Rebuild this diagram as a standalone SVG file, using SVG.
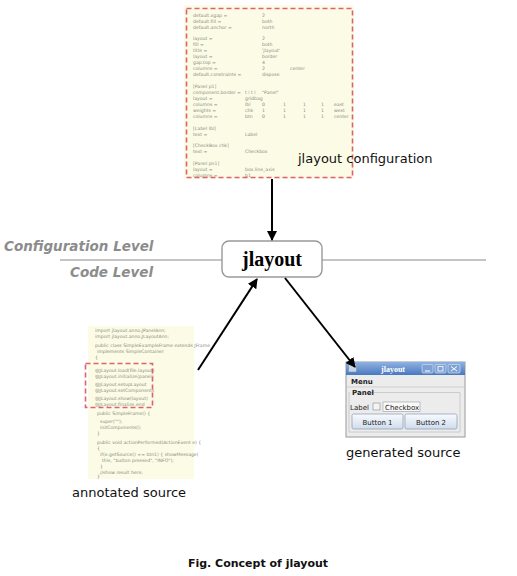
<svg xmlns="http://www.w3.org/2000/svg" width="517" height="576" viewBox="0 0 517 576">
<defs>
<marker id="ah" markerWidth="10" markerHeight="10" refX="9" refY="5" orient="auto" markerUnits="userSpaceOnUse">
<path d="M0,0 L10,5 L0,10 z" fill="#000"/>
</marker>
<linearGradient id="tb" x1="0" y1="0" x2="0" y2="1">
<stop offset="0" stop-color="#8fb2e0"/>
<stop offset="1" stop-color="#4a78c0"/>
</linearGradient>
<linearGradient id="btn" x1="0" y1="0" x2="0" y2="1">
<stop offset="0" stop-color="#f8fbff"/>
<stop offset="1" stop-color="#cfdcec"/>
</linearGradient>
</defs>
<style>
.paper{fill:#fcfce6}
.dash{fill:none;stroke:#e0606e;stroke-width:1.6;stroke-dasharray:5,3}
.code{font-family:"DejaVu Sans",sans-serif;font-size:4.6px;fill:#8a8a80}
.lbl{font-family:"DejaVu Sans","Open Sans",sans-serif;font-size:13px;fill:#111}
.lvl{font-family:"DejaVu Sans",sans-serif;font-size:13.5px;font-weight:bold;font-style:italic;fill:#8c8c8c}
.conn{stroke:#000;stroke-width:2;fill:none}
.wtxt{font-family:"DejaVu Sans",sans-serif;font-size:7px;fill:#222}
</style>
<rect width="517" height="576" fill="#fff"/>

<g id="level-lines">
<line x1="60" y1="260" x2="486" y2="260" stroke="#b0b0b0" stroke-width="1.3"/>
<text class="lvl" x="4" y="251">Configuration Level</text>
<text class="lvl" x="70" y="277">Code Level</text>
</g>

<g id="config">
<rect class="paper" x="184" y="5" width="170" height="174"/>
<rect class="dash" x="186.5" y="8.5" width="166" height="169"/>
<g class="code">
<text x="193" y="17">default.xgap =</text><text x="262" y="17">2</text>
<text x="193" y="23">default.fill =</text><text x="262" y="23">both</text>
<text x="193" y="29">default.anchor =</text><text x="262" y="29">north</text>
<text x="193" y="40">layout =</text><text x="262" y="40">2</text>
<text x="193" y="46">fill =</text><text x="262" y="46">both</text>
<text x="193" y="52">title =</text><text x="262" y="52">'jlayout'</text>
<text x="193" y="58">layout =</text><text x="262" y="58">border</text>
<text x="193" y="64">gap.top =</text><text x="262" y="64">4</text>
<text x="193" y="70">columns =</text><text x="262" y="70">2</text><text x="290" y="70">center</text>
<text x="193" y="76">default.constraints =</text><text x="262" y="76">dispose</text>
<text x="193" y="88">[Panel p1]</text>
<text x="193" y="94">component.border =</text><text x="245" y="94">t i t l</text><text x="262" y="94">"Panel"</text>
<text x="193" y="100">layout =</text><text x="245" y="100">gridbag</text>
<text x="193" y="106">columns =</text><text x="245" y="106">lbl</text>
<text x="193" y="112">weights =</text><text x="245" y="112">chk</text>
<text x="193" y="118">columns =</text><text x="245" y="118">btn</text>
<text x="262" y="106">0</text><text x="283" y="106">1</text><text x="303" y="106">1</text><text x="321" y="106">1</text><text x="334" y="106">east</text>
<text x="262" y="112">1</text><text x="283" y="112">1</text><text x="303" y="112">1</text><text x="321" y="112">1</text><text x="334" y="112">west</text>
<text x="262" y="118">0</text><text x="283" y="118">1</text><text x="303" y="118">1</text><text x="321" y="118">1</text><text x="334" y="118">center</text>
<text x="193" y="130">[Label lbl]</text>
<text x="193" y="136">text =</text><text x="245" y="136">Label</text>
<text x="193" y="147">[CheckBox chk]</text>
<text x="193" y="153">text =</text><text x="245" y="153">Checkbox</text>
<text x="193" y="165">[Panel pn1]</text>
<text x="193" y="171">layout =</text><text x="245" y="171">box.line_axis</text>
<text x="193" y="177">columns =</text><text x="245" y="177">b1</text>
</g>
<text class="lbl" x="298" y="163">jlayout configuration</text>
</g>

<g id="jlayout">
<rect x="222" y="241" width="100" height="36" rx="7" fill="#fff" stroke="#999" stroke-width="1.4"/>
<text x="272" y="266" text-anchor="middle" font-family="Liberation Serif,serif" font-weight="bold" font-size="20" fill="#000">jlayout</text>
</g>

<g id="annotated">
<rect class="paper" x="88" y="326" width="106" height="153"/>
<g class="code" font-size="4.2">
<text x="95" y="332">import jlayout.anno.JPanelAnn;</text>
<text x="95" y="338">import jlayout.anno.JLayoutAnn;</text>
<text x="95" y="347">public class SimpleExampleFrame extends JFrame</text>
<text x="97" y="353">implements SimpleContainer</text>
<text x="95" y="359">{</text>
<text x="95" y="372">@JLayout.load(file.layout)</text>
<text x="95" y="378">@JLayout.initialize(panel)</text>
<text x="95" y="386">@JLayout.setupLayout</text>
<text x="95" y="392">@JLayout.setComponents</text>
<text x="95" y="400">@JLayout.show(layout)</text>
<text x="95" y="406">@JLayout.finalize.end</text>
<text x="97" y="415">public SimpleFrame() {</text>
<text x="100" y="423">super("");</text>
<text x="100" y="429">initComponents();</text>
<text x="97" y="435">}</text>
<text x="97" y="444">public void actionPerformed(ActionEvent e) {</text>
<text x="97" y="450">{</text>
<text x="100" y="456">if(e.getSource() == btn1) {  showMessage(</text>
<text x="102" y="462">this, "button pressed", "INFO");</text>
<text x="100" y="468">}</text>
<text x="100" y="474">//show result here;</text>
<text x="97" y="478">}</text>
</g>
<rect class="dash" x="85.5" y="363.5" width="67" height="44"/>
<text class="lbl" x="72" y="497">annotated source</text>
</g>

<g id="generated">
<rect x="346" y="362" width="119" height="75" fill="#ececec" stroke="#9a9a9a" stroke-width="1"/>
<rect x="346" y="362" width="119" height="13" fill="url(#tb)"/>
<rect x="348.5" y="364" width="8" height="8" rx="1" fill="#c9d4e4" stroke="#6f86a8" stroke-width="0.5"/>
<text x="393" y="372" text-anchor="middle" font-family="Liberation Serif,serif" font-size="8" font-weight="bold" fill="#fff">jlayout</text>
<rect x="422" y="364.5" width="11" height="8.5" rx="1" fill="#7fa2d6" stroke="#dfe8f5" stroke-width="0.6"/>
<line x1="425" y1="371" x2="430" y2="371" stroke="#fff" stroke-width="1"/>
<rect x="435" y="364.5" width="11" height="8.5" rx="1" fill="#7fa2d6" stroke="#dfe8f5" stroke-width="0.6"/>
<rect x="438" y="366.5" width="5" height="4.5" fill="none" stroke="#fff" stroke-width="0.8"/>
<rect x="448" y="364.5" width="12" height="8.5" rx="1" fill="#7fa2d6" stroke="#dfe8f5" stroke-width="0.6"/>
<path d="M451,366.5 L457,371 M457,366.5 L451,371" stroke="#fff" stroke-width="1"/>
<text class="wtxt" x="351" y="384" font-weight="bold">Menu</text>
<line x1="347" y1="387" x2="464" y2="387" stroke="#cfcfcf"/>
<path d="M371,392.5 L460,392.5 L460,432 L349,432 L349,392.5 L350,392.5" fill="none" stroke="#c4c4c4" stroke-width="0.8"/>
<text class="wtxt" x="352" y="395" font-weight="bold" font-size="6.5">Panel</text>
<text class="wtxt" x="350" y="410">Label</text>
<rect x="373" y="403" width="7" height="7" fill="#f4f4f4" stroke="#8a8a8a" stroke-width="0.6"/>
<rect x="383" y="402" width="37" height="9.5" fill="#fafafa" stroke="#9a9a9a" stroke-width="0.6"/>
<text class="wtxt" x="385" y="410">Checkbox</text>
<rect x="352" y="414" width="51" height="15" rx="1.5" fill="url(#btn)" stroke="#8a9ab0" stroke-width="0.7"/>
<text class="wtxt" x="377.5" y="424.5" text-anchor="middle">Button 1</text>
<rect x="405" y="414" width="52" height="15" rx="1.5" fill="url(#btn)" stroke="#8a9ab0" stroke-width="0.7"/>
<text class="wtxt" x="431" y="424.5" text-anchor="middle">Button 2</text>
<text class="lbl" x="346" y="457">generated source</text>
</g>

<g id="connectors">
<line class="conn" x1="272" y1="179" x2="272" y2="240" marker-end="url(#ah)"/>
<line class="conn" x1="198" y1="370" x2="257" y2="279" marker-end="url(#ah)"/>
<line class="conn" x1="285" y1="278" x2="355" y2="367" marker-end="url(#ah)"/>
</g>

<text x="258" y="567" text-anchor="middle" font-family="DejaVu Sans,sans-serif" font-weight="bold" font-size="11" fill="#111">Fig. Concept of jlayout</text>
</svg>
